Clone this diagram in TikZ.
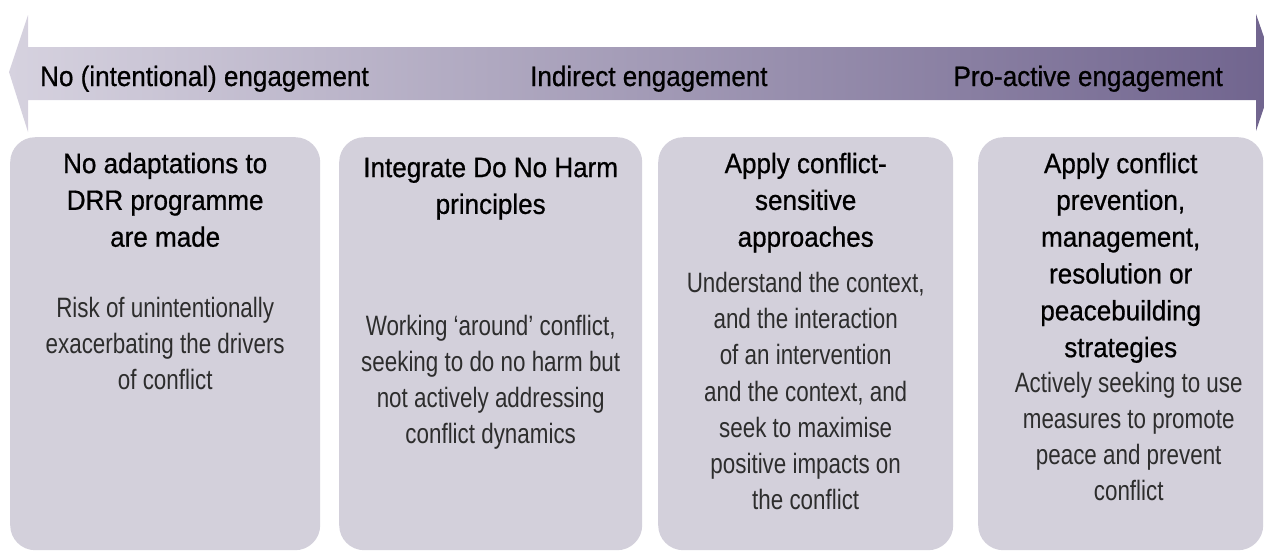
\documentclass[tikz,border=0pt]{standalone}
\usepackage{fontspec}
\setmainfont{Liberation Sans}[FakeStretch=0.93,FakeBold=0.7]
\newfontfamily\lightfont{Liberation Sans}[FakeStretch=0.8]
\usetikzlibrary{positioning}
\definecolor{panelgrey}{RGB}{211,208,219}
\definecolor{arrowlight}{RGB}{214,210,223}
\definecolor{arrowdark}{RGB}{112,100,142}
\definecolor{bodygrey}{RGB}{45,45,45}
\begin{document}
\begin{tikzpicture}[x=1pt,y=-1pt,
  panel/.style={fill=panelgrey, rounded corners=25pt, anchor=north west, inner sep=0pt},
  title/.style={anchor=north, inner sep=0pt, align=center, font=\fontsize{28}{36.8}\selectfont},
  body/.style={anchor=north, inner sep=0pt, align=center, text=bodygrey, font=\lightfont\fontsize{28}{36.3}\selectfont},
  scalelabel/.style={anchor=base west, inner sep=0pt, font=\fontsize{28}{34}\selectfont}]
\useasboundingbox (0,0) rectangle (1264,550);
\clip (0,0) rectangle (1264,550);
\shade [left color=arrowlight, right color=arrowdark] (9,72) -- (28,15) -- (28,47) -- (1256,47) -- (1256,14) -- (1276,72) -- (1256,131) -- (1256,100) -- (28,100) -- (28,132) -- cycle;
\node [scalelabel] (none) at (40,86) {No (intentional) engagement};
\node [scalelabel] (indirect) at (530,86) {Indirect engagement};
\node [scalelabel, anchor=base east] (proactive) at (1223,86) {Pro-active engagement};
\node [panel, minimum width=310pt, minimum height=413pt] (p1) at (10,137) {};
\node [panel, minimum width=303pt, minimum height=413pt] (p2) at (339,137) {};
\node [panel, minimum width=295pt, minimum height=413pt] (p3) at (658,137) {};
\node [panel, minimum width=285pt, minimum height=413pt] (p4) at (978,137) {};
\node [title, below=15.6pt of p1.north] (t1) {No adaptations to\\DRR programme\\are made};
\node [body, below=159.6pt of p1.north] (b1) {Risk of unintentionally\\exacerbating the drivers\\of conflict};
\node [title, below=20.6pt of p2.north] (t2) {Integrate Do No Harm\\principles};
\node [body, below=177.6pt of p2.north] (b2) {Working ‘around’ conflict,\\seeking to do no harm but\\not actively addressing\\conflict dynamics};
\node [title, below=15.6pt of p3.north] (t3) {Apply conflict-\\sensitive\\approaches};
\node [body, below=134.6pt of p3.north] (b3) {Understand the context,\\and the interaction\\of an intervention\\and the context, and\\seek to maximise\\positive impacts on\\the conflict};
\node [title, below=15.6pt of p4.north] (t4) {Apply conflict\\prevention,\\management,\\resolution or\\peacebuilding\\strategies};
\node [body, below=234.6pt of p4.north, xshift=8pt] (b4) {Actively seeking to use\\measures to promote\\peace and prevent\\conflict};
\end{tikzpicture}
\end{document}
